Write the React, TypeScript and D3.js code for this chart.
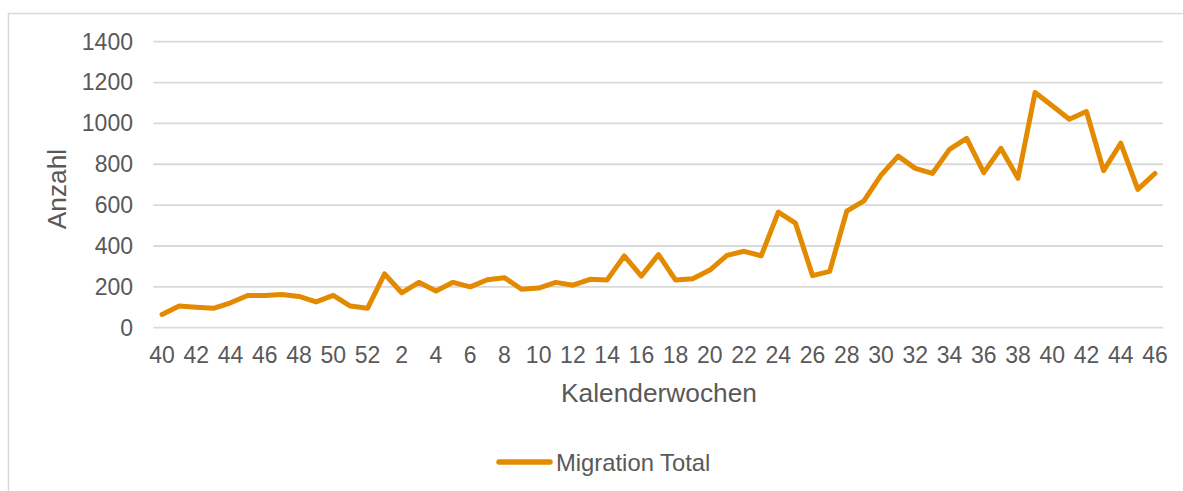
import React, { useRef, useEffect } from 'react';
import * as d3 from 'd3';

// Kalenderwochen (KW 40/Vorjahr bis KW 46)
const weeks: string[] = [
    '40', '41', '42', '43', '44', '45', '46', '47', '48', '49', '50', '51', '52',
    '1', '2', '3', '4', '5', '6', '7', '8', '9', '10', '11', '12', '13', '14', '15',
    '16', '17', '18', '19', '20', '21', '22', '23', '24', '25', '26', '27', '28', '29',
    '30', '31', '32', '33', '34', '35', '36', '37', '38', '39', '40', '41', '42', '43',
    '44', '45', '46',
];

const migrationTotal: number[] = [
    65, 106, 100, 95, 122, 158, 158, 162, 153, 126, 158, 106, 95,
    263, 171, 222, 180, 222, 200, 235, 245, 188, 194, 222, 208, 237, 234, 351,
    253, 358, 233, 240, 282, 354, 374, 352, 566, 512, 255, 276, 571, 621,
    747, 840, 780, 755, 873, 927, 759, 878, 731, 1151, 1086, 1020, 1058, 769,
    903, 677, 755,
];

const yTicks: number[] = [0, 200, 400, 600, 800, 1000, 1200, 1400];

const seriesName = 'Migration Total';

const W = 1183;
const H = 491;
const LINE = '#E38A00';
const TEXT = '#595959';
const GRID = '#D9D9D9';
const FONT = '"Liberation Sans", Arial, sans-serif';

const Chart: React.FC = () => {
    const ref = useRef<SVGSVGElement>(null);

    useEffect(() => {
        if (ref.current) drawChart();
    }, []);

    const drawChart = () => {
        const svg = d3.select(ref.current);
        svg.selectAll('*').remove();

        const idx = weeks.map((_, i) => i);
        const x = d3.scaleBand<number>()
            .domain(idx)
            .range([153.5, 1163.5]);
        const y = d3.scaleLinear()
            .domain([0, 1400])
            .range([327.7, 41.7]);
        const cx = (i: number) => x(i)! + x.bandwidth() / 2;

        // Rahmen
        svg.append('rect')
            .attr('x', 8.5).attr('y', 13.5)
            .attr('width', W + 20).attr('height', H + 20)
            .attr('fill', '#fff')
            .attr('stroke', GRID).attr('stroke-width', 1.5);

        // Gitternetz
        svg.append('g').selectAll('line')
            .data(yTicks)
            .enter().append('line')
            .attr('x1', 153.5).attr('x2', 1163)
            .attr('y1', d => y(d)).attr('y2', d => y(d))
            .attr('stroke', GRID).attr('stroke-width', 1.8);

        // Y-Achse
        const yAxis = svg.append('g')
            .attr('transform', 'translate(140,0)')
            .call(d3.axisLeft(y).tickValues(yTicks).tickSize(0).tickPadding(7).tickFormat(d3.format('d')));
        yAxis.select('.domain').remove();
        yAxis.selectAll('text')
            .attr('fill', TEXT).attr('font-size', 23).attr('font-family', FONT);

        // X-Achse
        const xAxis = svg.append('g')
            .attr('transform', `translate(0,${y(0)})`)
            .call(d3.axisBottom(x)
                .tickValues(idx.filter(i => i % 2 === 0))
                .tickSize(0).tickPadding(19)
                .tickFormat(i => weeks[i as number]));
        xAxis.select('.domain').remove();
        xAxis.selectAll('text')
            .attr('fill', TEXT).attr('font-size', 23).attr('font-family', FONT);

        // Linie
        const line = d3.line<number>()
            .x((_, i) => cx(i))
            .y(d => y(d));
        svg.append('path')
            .datum(migrationTotal)
            .attr('d', line)
            .attr('fill', 'none')
            .attr('stroke', LINE)
            .attr('stroke-width', 5)
            .attr('stroke-linejoin', 'round')
            .attr('stroke-linecap', 'round');

        // Achsentitel
        svg.append('text')
            .attr('x', 659).attr('y', 402)
            .attr('text-anchor', 'middle')
            .attr('fill', TEXT).attr('font-size', 26.3).attr('font-family', FONT)
            .text('Kalenderwochen');
        svg.append('text')
            .attr('transform', 'translate(66,189) rotate(-90)')
            .attr('text-anchor', 'middle')
            .attr('fill', TEXT).attr('font-size', 26.3).attr('font-family', FONT)
            .text('Anzahl');

        // Legende
        svg.append('line')
            .attr('x1', 499).attr('x2', 550)
            .attr('y1', 462).attr('y2', 462)
            .attr('stroke', LINE).attr('stroke-width', 5.5)
            .attr('stroke-linecap', 'round');
        svg.append('text')
            .attr('x', 556).attr('y', 470.5)
            .attr('fill', TEXT).attr('font-size', 23.8).attr('font-family', FONT)
            .text(seriesName);
    };

    return (
        <svg ref={ref} width={W} height={H}
            style={{ position: 'absolute', left: 0, top: 0, background: '#fff' }} />
    );
};

export default function App() {
    return <Chart />;
}
